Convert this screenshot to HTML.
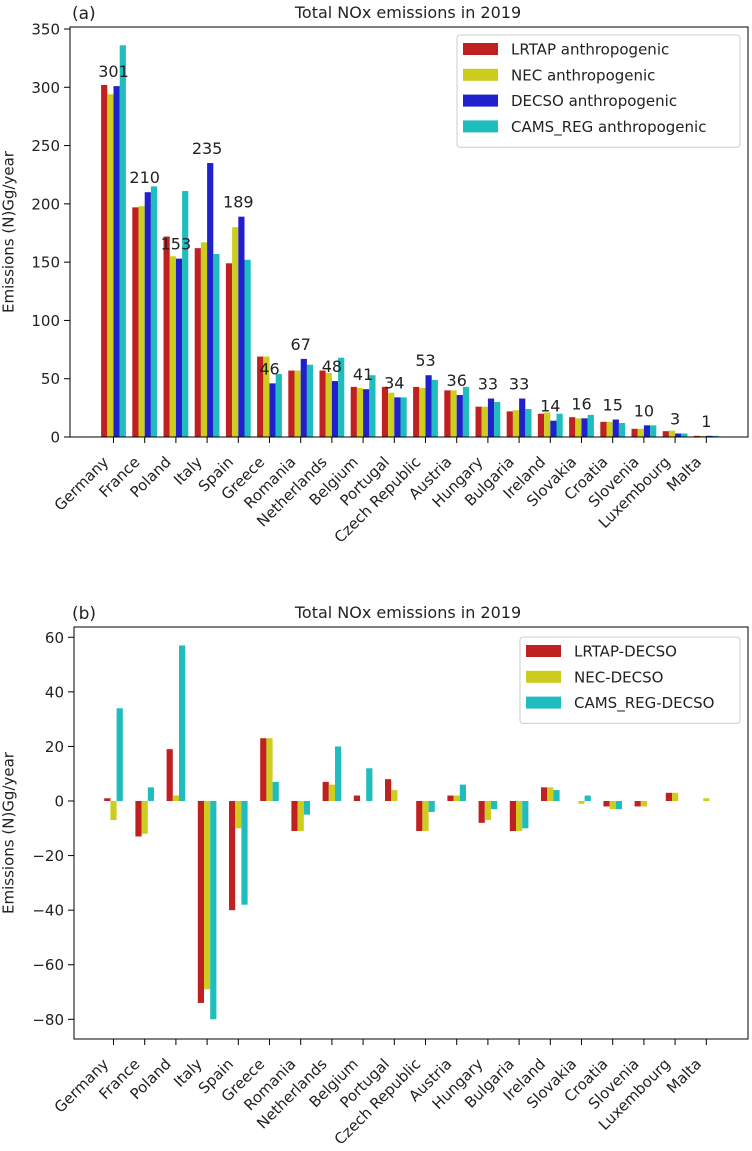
<!DOCTYPE html>
<html><head><meta charset="utf-8"><style>
html,body{margin:0;padding:0;background:#fff;}
svg{display:block;font-family:"DejaVu Sans","Liberation Sans",sans-serif;}
</style></head><body>
<svg id="fig" width="752" height="1151" viewBox="0 0 752 1151" xmlns="http://www.w3.org/2000/svg"></svg>
<script>
const countries = ["Germany","France","Poland","Italy","Spain","Greece","Romania","Netherlands","Belgium","Portugal","Czech Republic","Austria","Hungary","Bulgaria","Ireland","Slovakia","Croatia","Slovenia","Luxembourg","Malta"];
const lrtap = [302,197,172,162,149,69,57,57,43,43,43,40,26,22,20,17,13,7,5,1];
const nec = [294,198,155,167,180,69,57,55,42,38,42,40,26,23,21,16,13,7,5.5,1];
const decso = [301,210,153,235,189,46,67,48,41,34,53,36,33,33,14,16,15,10,3,1];
const cams = [336,215,211,157,152,54,62,68,53,34,49,43,30,24,20,19,12,10,3,1];
const decsoLabels = ["301","210","153","235","189","46","67","48","41","34","53","36","33","33","14","16","15","10","3","1"];
const diffLrtap = [1,-13,19,-74,-40,23,-11,7,2,8,-11,2,-8,-11,5,0,-2,-2,3,0];
const diffNec = [-7,-12,2,-69,-10,23,-11,6,0,4,-11,2,-7,-11,5,-1,-3,-2,3,1];
const diffCams = [34,5,57,-80,-38,7,-5,20,12,0,-4,6,-3,-10,4,2,-3,0,0,0];
const topTicks = [0,50,100,150,200,250,300,350];
const botTicks = [-80,-60,-40,-20,0,20,40,60];

const C = {red:"#c0201f",yel:"#cdcd1f",blu:"#2020cc",cya:"#1fbdbd"};
const NS="http://www.w3.org/2000/svg";
const svg=document.getElementById('fig');
function el(tag,attrs,parent,text){const e=document.createElementNS(NS,tag);for(const k in attrs)e.setAttribute(k,attrs[k]);if(text!==undefined)e.textContent=text;(parent||svg).appendChild(e);return e;}
const xc = i => 113.5 + 31.2*i;
const bw = 6.2;

function panel(cfg){
  const g=el('g',{});
  
  
  const y = v => cfg.y0 - v*cfg.k;
  cfg.series.forEach((s,si)=>{
    s.vals.forEach((v,i)=>{
      const x = xc(i) - cfg.series.length*bw/2 + si*bw;
      const r=el('rect',{x:x,y:Math.min(y(v),y(0)),width:bw,height:Math.abs(y(v)-y(0)),fill:s.color},g);
      
      
    });
  });
  const f=el('rect',{x:cfg.L,y:cfg.T,width:cfg.R-cfg.L,height:cfg.B-cfg.T,fill:'none',stroke:'#000','stroke-width':1},g);
  
  
  cfg.ticks.forEach(t=>{
    el('line',{x1:cfg.L-6,x2:cfg.L,y1:y(t),y2:y(t),stroke:'#000'},g);
    const tx=el('text',{x:cfg.L-10,y:y(t)+5.5,'text-anchor':'end','font-size':15,fill:'#222'},g,t<0?'\u2212'+(-t):String(t));
    
    
  });
  countries.forEach((c,i)=>{
    el('line',{x1:xc(i),x2:xc(i),y1:cfg.B,y2:cfg.B+6,stroke:'#000'},g);
    const tx=el('text',{transform:`translate(${xc(i)-12},${cfg.B+18}) rotate(-45)`,'text-anchor':'end','dominant-baseline':'hanging','font-size':15,fill:'#222'},g,c);
    
    
  });
  const yl=el('text',{transform:`translate(9,${(cfg.T+cfg.B)/2}) rotate(-90)`,'text-anchor':'middle','dominant-baseline':'middle','font-size':15,fill:'#222'},g,'Emissions (N)Gg/year');
  
  
  const ti=el('text',{x:408,y:cfg.T-9,'text-anchor':'middle','font-size':16,fill:'#222'},g,'Total NOx emissions in 2019');
  
  
  const pl=el('text',{x:72,y:cfg.T-8,'font-size':17,fill:'#222'},g,cfg.panel);
  
  
  const lg=el('g',{},g);
  
  
  el('rect',{x:cfg.lx,y:cfg.ly,width:cfg.lw,height:cfg.series.length*25.8+9,rx:3,fill:'#fff',stroke:'#ccc'},lg);
  cfg.series.forEach((s,si)=>{
    const e=el('g',{},lg);
    
    
    const yy=cfg.ly+14+si*25.8;
    el('rect',{x:cfg.lx+6,y:yy-6,width:35,height:12,fill:s.color},e);
    el('text',{x:cfg.lx+54,y:yy+5.5,'font-size':15,fill:'#222'},e,s.label);
  });
  return {g,y};
}

const topPanel=panel({name:'chart-a',panel:'(a)',L:70,R:748,T:27,B:437,y0:437,k:408/350,ticks:topTicks,lx:457,ly:35,lw:283,
  series:[{key:'lrtap',vals:lrtap,color:C.red,label:'LRTAP anthropogenic'},{key:'nec',vals:nec,color:C.yel,label:'NEC anthropogenic'},{key:'decso',vals:decso,color:C.blu,label:'DECSO anthropogenic'},{key:'cams',vals:cams,color:C.cya,label:'CAMS_REG anthropogenic'}]});
decsoLabels.forEach((l,i)=>{
  const t=el('text',{x:xc(i),y:topPanel.y(decso[i])-9,'text-anchor':'middle','font-size':16,fill:'#222'},topPanel.g,l);
  
  
});
panel({name:'chart-b',panel:'(b)',L:74,R:748,T:627,B:1039,y0:801,k:218.3/80,ticks:botTicks,lx:520,ly:637,lw:220,
  series:[{key:'lrtap-decso',vals:diffLrtap,color:C.red,label:'LRTAP-DECSO'},{key:'nec-decso',vals:diffNec,color:C.yel,label:'NEC-DECSO'},{key:'cams-decso',vals:diffCams,color:C.cya,label:'CAMS_REG-DECSO'}]});
</script>
</body></html>
